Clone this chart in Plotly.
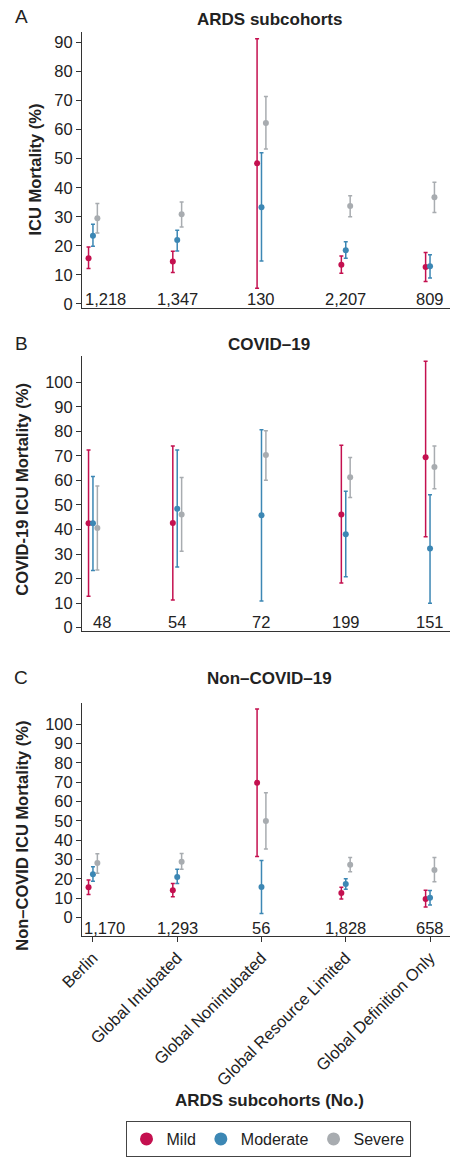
import plotly.graph_objects as go

FONT = "Liberation Sans, Arial, Helvetica, sans-serif"
W, H = 450, 1157

categories = ["Berlin", "Global Intubated", "Global Nonintubated",
              "Global Resource Limited", "Global Definition Only"]
severities = ["Mild", "Moderate", "Severe"]
colors = {"Mild": "#C4104F", "Moderate": "#3C87B4", "Severe": "#A8ACB0"}

# ---- Panel A: ARDS subcohorts ----
a_counts = ["1,218", "1,347", "130", "2,207", "809"]
a_mild_est = [15.7, 14.6, 48.4, 13.5, 12.7]
a_mild_lo = [12.2, 10.8, 5.4, 10.6, 7.7]
a_mild_hi = [19.6, 18.1, 91.3, 16.5, 17.7]
a_mod_est = [23.5, 22.0, 33.3, 18.5, 13.0]
a_mod_lo = [19.9, 18.2, 14.8, 15.7, 8.9]
a_mod_hi = [27.4, 25.4, 52.0, 21.4, 16.9]
a_sev_est = [29.5, 30.9, 62.3, 33.7, 36.7]
a_sev_lo = [24.4, 26.5, 53.3, 30.0, 31.5]
a_sev_hi = [34.6, 35.1, 71.4, 37.2, 41.9]

# ---- Panel B: COVID-19 ----
b_counts = ["48", "54", "72", "199", "151"]
b_mild_est = [42.5, 42.6, None, 46.1, 69.5]
b_mild_lo = [12.8, 11.2, None, 18.2, 37.0]
b_mild_hi = [72.4, 74.1, None, 74.4, 108.6]
b_mod_est = [42.5, 48.5, 45.8, 38.1, 32.2]
b_mod_lo = [23.3, 24.7, 10.8, 20.7, 9.9]
b_mod_hi = [61.6, 72.4, 80.7, 55.6, 54.2]
b_sev_est = [40.6, 46.1, 70.4, 61.3, 65.5]
b_sev_lo = [23.5, 31.1, 60.1, 53.1, 56.6]
b_sev_hi = [57.7, 61.2, 80.3, 69.4, 74.1]

# ---- Panel C: Non-COVID-19 ----
c_counts = ["1,170", "1,293", "56", "1,828", "658"]
c_mild_est = [15.7, 14.2, 69.7, 12.7, 9.7]
c_mild_lo = [11.9, 10.8, 31.6, 9.7, 5.5]
c_mild_hi = [19.5, 17.6, 107.8, 15.7, 14.2]
c_mod_est = [22.4, 21.0, 15.9, 17.4, 10.3]
c_mod_lo = [18.8, 17.6, 2.2, 14.7, 6.5]
c_mod_hi = [26.3, 25.0, 29.6, 20.1, 14.0]
c_sev_est = [28.2, 28.9, 49.9, 27.3, 24.6]
c_sev_lo = [22.9, 25.0, 35.5, 23.7, 18.5]
c_sev_hi = [33.0, 33.2, 64.6, 31.1, 31.1]

panels = [
    dict(letter="A", title="ARDS subcohorts", ytitle="ICU Mortality (%)",
         counts=a_counts,
         series={"Mild": (a_mild_est, a_mild_lo, a_mild_hi),
                 "Moderate": (a_mod_est, a_mod_lo, a_mod_hi),
                 "Severe": (a_sev_est, a_sev_lo, a_sev_hi)},
         yrange=[-1.5, 93.7], ytop=32, ybot=311, tickmax=90,
         count_px=302, first_shift=13, letter_px=17, title_px=20, ytitle_px=171),
    dict(letter="B", title="COVID\u201319", ytitle="COVID-19 ICU Mortality (%)",
         counts=b_counts,
         series={"Mild": (b_mild_est, b_mild_lo, b_mild_hi),
                 "Moderate": (b_mod_est, b_mod_lo, b_mod_hi),
                 "Severe": (b_sev_est, b_sev_lo, b_sev_hi)},
         yrange=[-1.6, 110.8], ytop=359, ybot=637, tickmax=100,
         count_px=627, first_shift=9, letter_px=346, title_px=347, ytitle_px=494),
    dict(letter="C", title="Non\u2013COVID\u201319", ytitle="Non\u2013COVID ICU Mortality (%)",
         counts=c_counts,
         series={"Mild": (c_mild_est, c_mild_lo, c_mild_hi),
                 "Moderate": (c_mod_est, c_mod_lo, c_mod_hi),
                 "Severe": (c_sev_est, c_sev_lo, c_sev_hi)},
         yrange=[-9.4, 111.0], ytop=709, ybot=944, tickmax=100,
         count_px=936, first_shift=12, letter_px=683, title_px=684, ytitle_px=843),
]

ML = 82  # left margin px
PW = W - ML
TXT = "#222222"


def py(px):
    return 1 - px / H


fig = go.Figure()
layout = dict(
    width=W, height=H,
    margin=dict(l=ML, r=0, t=0, b=0),
    paper_bgcolor="white", plot_bgcolor="white",
    font=dict(family=FONT, size=16, color=TXT),
    scattermode="group", scattergap=0.843,
    showlegend=True,
)
annotations = []

for i, p in enumerate(panels):
    n = "" if i == 0 else str(i + 1)
    xa, ya = "x" + n, "y" + n
    for sev in severities:
        est, lo, hi = p["series"][sev]
        plus = [None if e is None else h - e for e, h in zip(est, hi)]
        minus = [None if e is None else e - l for e, l in zip(est, lo)]
        fig.add_trace(go.Scatter(
            x=categories, y=est, mode="markers", name=sev,
            offsetgroup=sev, showlegend=False,
            marker=dict(color=colors[sev], size=6),
            error_y=dict(type="data", symmetric=False, array=plus, arrayminus=minus,
                         color=colors[sev], thickness=1.5, width=2),
            xaxis=xa, yaxis=ya, cliponaxis=False,
        ))
    last = i == len(panels) - 1
    layout["xaxis" + n] = dict(
        domain=[0, 1], anchor=ya, type="category",
        categoryorder="array", categoryarray=categories,
        range=[-0.13, 4.237], showline=True, linecolor="#333333", linewidth=1,
        showgrid=False, zeroline=False,
        ticks="outside" if last else "", ticklen=5, tickcolor="#333333",
        showticklabels=last, tickangle=-45,
        tickfont=dict(family=FONT, size=16.5, color=TXT),
    )
    layout["yaxis" + n] = dict(
        domain=[py(p["ybot"]), py(p["ytop"])], anchor=xa,
        range=p["yrange"], showline=True, linecolor="#333333", linewidth=1,
        showgrid=False, zeroline=False, ticks="outside", ticklen=5,
        tickcolor="#333333", tickmode="array",
        tickvals=list(range(0, p["tickmax"] + 1, 10)),
        tickfont=dict(family=FONT, size=16.5, color=TXT),
    )
    annotations.append(dict(text=p["letter"], xref="paper", yref="paper", x=0, xshift=21 - ML,
                            y=py(p["letter_px"]), xanchor="center", yanchor="middle",
                            showarrow=False, font=dict(family=FONT, size=19, color=TXT)))
    annotations.append(dict(text="<b>%s</b>" % p["title"], xref="paper", yref="paper",
                            x=(269 - ML) / PW, y=py(p["title_px"]), xanchor="center",
                            yanchor="middle", showarrow=False,
                            font=dict(family=FONT, size=17, color=TXT)))
    annotations.append(dict(text="<b>%s</b>" % p["ytitle"], xref="paper", yref="paper",
                            x=0, xshift=(35 if i == 0 else 22) - ML, y=py(p["ytitle_px"]),
                            textangle=-90, xanchor="center", yanchor="middle",
                            showarrow=False, font=dict(family=FONT, size=16.5, color=TXT)))
    for j, (cat, cnt) in enumerate(zip(categories, p["counts"])):
        annotations.append(dict(text=cnt, xref=xa, yref="paper", x=cat, y=py(p["count_px"]),
                                xshift=p["first_shift"] if j == 0 else 0,
                                xanchor="center", yanchor="middle", showarrow=False,
                                font=dict(family=FONT, size=16.5, color=TXT)))

annotations.append(dict(text="<b>ARDS subcohorts (No.)</b>", xref="paper", yref="paper",
                        x=(269 - ML) / PW, y=py(1110), xanchor="center", yanchor="middle",
                        showarrow=False, font=dict(family=FONT, size=17, color=TXT)))

# legend entries (hidden axis)
for sev in severities:
    fig.add_trace(go.Scatter(x=[None], y=[None], mode="markers", name=sev,
                             marker=dict(color=colors[sev], size=13),
                             xaxis="x4", yaxis="y4", showlegend=True))
layout["xaxis4"] = dict(domain=[0, 0.01], anchor="y4", visible=False)
layout["yaxis4"] = dict(domain=[0, 0.01], anchor="x4", visible=False)

layout["legend"] = dict(orientation="h", x=(268 - ML) / PW, xanchor="center",
                        y=py(1131), yanchor="top", bordercolor="#444444", borderwidth=1,
                        bgcolor="white", font=dict(family=FONT, size=16, color=TXT),
                        itemclick=False, tracegroupgap=0)
layout["annotations"] = annotations
fig.update_layout(**layout)

fig.write_html("out.html", config={"displayModeBar": False},
               post_script="document.body.style.margin='0';document.body.style.overflow='hidden';")
